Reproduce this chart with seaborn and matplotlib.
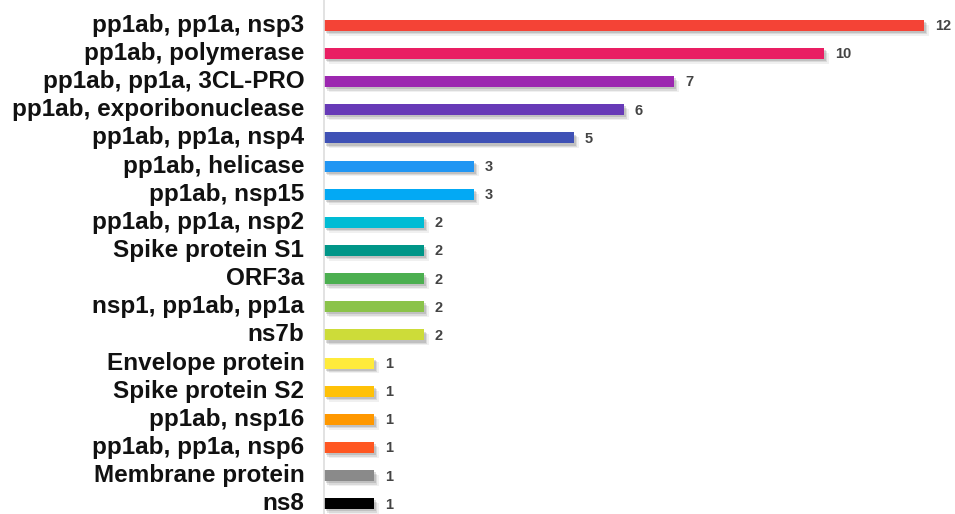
import matplotlib
matplotlib.use("Agg")
import matplotlib.pyplot as plt
import matplotlib.patheffects as pe
import seaborn as sns
import pandas as pd

categories = [
    "pp1ab, pp1a, nsp3", "pp1ab, polymerase", "pp1ab, pp1a, 3CL-PRO",
    "pp1ab, exporibonuclease", "pp1ab, pp1a, nsp4", "pp1ab, helicase",
    "pp1ab, nsp15", "pp1ab, pp1a, nsp2", "Spike protein S1", "ORF3a",
    "nsp1, pp1ab, pp1a", "ns7b", "Envelope protein", "Spike protein S2",
    "pp1ab, nsp16", "pp1ab, pp1a, nsp6", "Membrane protein", "ns8",
]
counts = [12, 10, 7, 6, 5, 3, 3, 2, 2, 2, 2, 2, 1, 1, 1, 1, 1, 1]
colors = [
    "#F44336", "#E91E63", "#9C27B0", "#673AB7", "#3F51B5", "#2196F3",
    "#03A9F4", "#00BCD4", "#009688", "#4CAF50", "#8BC34A", "#CDDC39",
    "#FFEB3B", "#FFC107", "#FF9800", "#FF5722", "#8A8A8A", "#000000",
]

df = pd.DataFrame({"protein": categories, "count": counts})

sns.set_style("white")
plt.rcParams["font.family"] = ["Liberation Sans", "DejaVu Sans"]

fig = plt.figure(figsize=(9.55, 5.14), dpi=100)
ax = fig.add_axes([0.339, 0.0, 0.661, 1.0])

sns.barplot(data=df, x="count", y="protein", hue="protein", palette=colors,
            order=categories, hue_order=categories, width=0.39,
            legend=False, ax=ax, orient="h", saturation=1, linewidth=0)

# soft drop shadow: a few stacked translucent offsets
shadow = [
    pe.SimplePatchShadow(offset=(3.5, -3.5), shadow_rgbFace="#888888", alpha=0.12),
    pe.SimplePatchShadow(offset=(2.5, -2.5), shadow_rgbFace="#777777", alpha=0.18),
    pe.SimplePatchShadow(offset=(1.5, -1.5), shadow_rgbFace="#666666", alpha=0.22),
    pe.Normal(),
]
for bar in ax.patches:
    bar.set_edgecolor("none")
    bar.set_path_effects(shadow)

for i, v in enumerate(counts):
    ax.text(v + 0.22, i + 0.03, str(v), va="center", ha="left",
            fontsize=10.5, fontweight="bold", color="#444444")

ax.set_xlim(0, 12.62)
ax.set_ylim(17.36, -0.9)
ax.set_xlabel("")
ax.set_ylabel("")
ax.set_xticks([])
ax.tick_params(axis="y", length=0, pad=14)
for lbl in ax.get_yticklabels():
    lbl.set_fontsize(17.5)
    lbl.set_fontweight("bold")
    lbl.set_color("#111111")
    lbl.set_verticalalignment("center")

for s in ["top", "right", "bottom"]:
    ax.spines[s].set_visible(False)
ax.spines["left"].set_color("#dddddd")
ax.spines["left"].set_linewidth(1.2)

fig.savefig("out.png", dpi=100)
